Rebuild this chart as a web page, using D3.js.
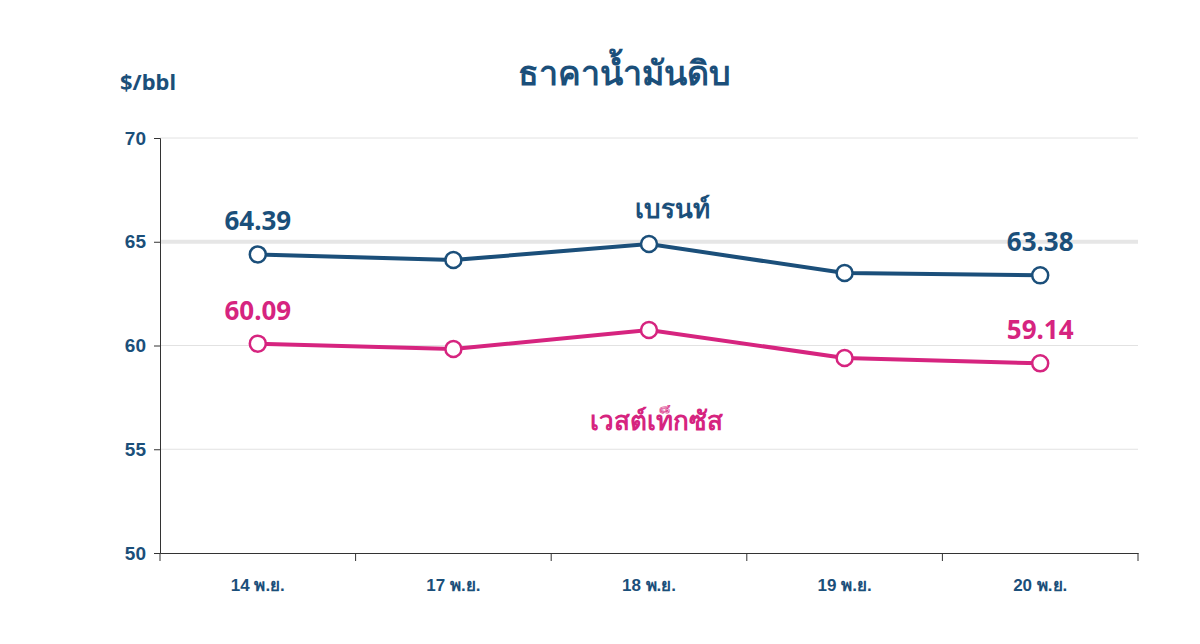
<!DOCTYPE html>
<html><head><meta charset="utf-8">
<script src="https://cdn.jsdelivr.net/npm/d3@7"></script>
<style>body{margin:0;background:#fff}svg{font-family:"Noto Sans","Noto Sans CJK SC",sans-serif;font-weight:bold}</style>
</head><body><svg id="c" width="1200" height="644"></svg>
<script>
const categories=["14 พ.ย.","17 พ.ย.","18 พ.ย.","19 พ.ย.","20 พ.ย."];
const brent=[64.39,64.12,64.89,63.49,63.38];
const wti=[60.09,59.83,60.75,59.40,59.14];
const yTicks=[50,55,60,65,70];
const blue="#1b4f7a",pink="#d6247f";
const svg=d3.select("#c");
const x=d3.scaleBand().domain(categories).range([160,1138]);
const y=d3.scaleLinear().domain([50,70]).range([553,138]);
svg.append("g").selectAll("line").data(yTicks.slice(1)).join("line")
 .attr("x1",160).attr("x2",1138).attr("y1",d=>y(d)).attr("y2",d=>y(d))
 .attr("stroke",d=>d===65?"#e6e6e6":"#e2e2e2").attr("stroke-width",d=>d===65?4:1);
const ya=svg.append("g").attr("transform","translate(160,0)").call(d3.axisLeft(y).tickValues(yTicks).tickSize(6).tickPadding(8));
ya.selectAll("text").attr("font-size",19).attr("fill",blue).attr("font-weight","bold");
ya.selectAll("line,path").attr("stroke","#333");
const xa=svg.append("g").attr("transform","translate(0,553)").call(d3.axisBottom(x).tickSizeOuter(0).tickSize(0).tickPadding(26));
xa.selectAll("text").attr("font-size",17).attr("fill",blue).attr("font-weight","bold");
xa.select("path").attr("stroke","#333");
svg.append("g").selectAll("line").data(d3.range(categories.length+1)).join("line")
 .attr("x1",i=>160+i*x.bandwidth()).attr("x2",i=>160+i*x.bandwidth()).attr("y1",553).attr("y2",561).attr("stroke","#333");
const cx=d=>x(d)+x.bandwidth()/2;
function series(vals,col,lab,lx,ly){
 const line=d3.line().x((d,i)=>cx(categories[i])).y(d=>y(d));
 svg.append("path").datum(vals).attr("d",line).attr("fill","none").attr("stroke",col).attr("stroke-width",4);
 svg.append("g").selectAll("circle").data(vals).join("circle").attr("cx",(d,i)=>cx(categories[i])).attr("cy",d=>y(d))
  .attr("r",8).attr("fill","#fff").attr("stroke",col).attr("stroke-width",2.5);
 [0,vals.length-1].forEach(i=>svg.append("text").attr("x",cx(categories[i])).attr("y",y(vals[i])-24)
  .attr("text-anchor","middle").attr("font-size",26).attr("fill",col).text(vals[i].toFixed(2)));
 svg.append("text").attr("x",lx).attr("y",ly).attr("text-anchor","middle").attr("font-size",26).attr("fill",col).text(lab);
}
series(brent,blue,"เบรนท์",672,218);
series(wti,pink,"เวสต์เท็กซัส",656,430);
svg.append("text").attr("x",624).attr("y",85).attr("text-anchor","middle").attr("font-size",34).attr("fill",blue).text("ธาคาน้ำมันดิบ");
svg.append("text").attr("x",148).attr("y",90).attr("text-anchor","middle").attr("font-size",22).attr("fill",blue).text("$/bbl");
</script></body></html>
